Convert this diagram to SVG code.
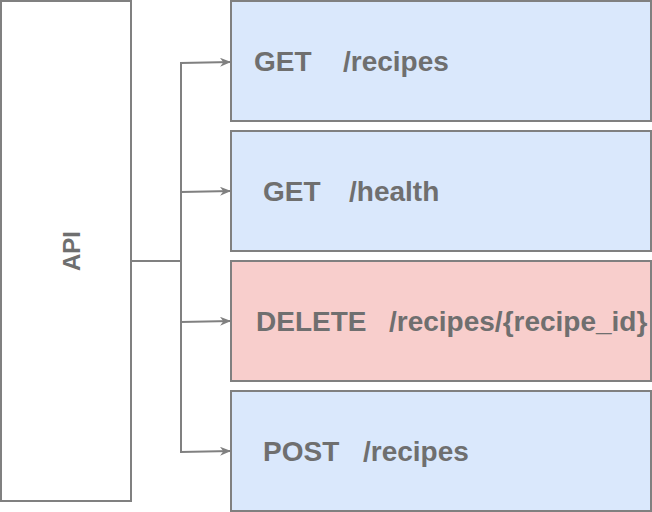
<svg xmlns="http://www.w3.org/2000/svg" width="652" height="512" viewBox="0 0 652 512">
<style>
.box{stroke:#808080;stroke-width:2}
.blue{fill:#dae8fc}
.red{fill:#f8cecc}
.t{font-family:"Liberation Sans",Arial,sans-serif;font-weight:bold;font-size:28px;fill:#6f6f6f}
.api{font-size:24px}
.edge{fill:none;stroke:#808080;stroke-width:2}
</style>
<defs>
<marker id="arr" viewBox="0 0 10 10" refX="10" refY="5" markerWidth="11" markerHeight="9" markerUnits="userSpaceOnUse" orient="auto" preserveAspectRatio="none">
<path d="M0,0 L10,5 L0,10 L3,5 Z" fill="#808080"/>
</marker>
</defs>
<g id="api">
<rect class="box" x="1" y="1" width="130" height="500" fill="#ffffff"/>
<text class="t api" transform="translate(80,251) rotate(-90)" text-anchor="middle">API</text>
</g>
<g id="get-recipes">
<rect class="box blue" x="231" y="1" width="420" height="120"/>
<text class="t" x="254" y="71">GET</text><text class="t" x="343" y="71">/recipes</text>
</g>
<g id="get-health">
<rect class="box blue" x="231" y="131" width="420" height="120"/>
<text class="t" x="263" y="201">GET</text><text class="t" x="349" y="201">/health</text>
</g>
<g id="delete-recipe">
<rect class="box red" x="231" y="261" width="420" height="120"/>
<text class="t" x="256" y="331">DELETE</text><text class="t" x="389" y="331">/recipes/{recipe_id}</text>
</g>
<g id="post-recipes">
<rect class="box blue" x="231" y="391" width="420" height="120"/>
<text class="t" x="263" y="461">POST</text><text class="t" x="363" y="461">/recipes</text>
</g>
<g id="connectors">
<path class="edge" d="M131,261 H181 V63 L231,62" marker-end="url(#arr)"/>
<path class="edge" d="M181,261 V192 L231,191" marker-end="url(#arr)"/>
<path class="edge" d="M181,261 V322 L231,321" marker-end="url(#arr)"/>
<path class="edge" d="M181,261 V452 L231,451" marker-end="url(#arr)"/>
</g>
</svg>
